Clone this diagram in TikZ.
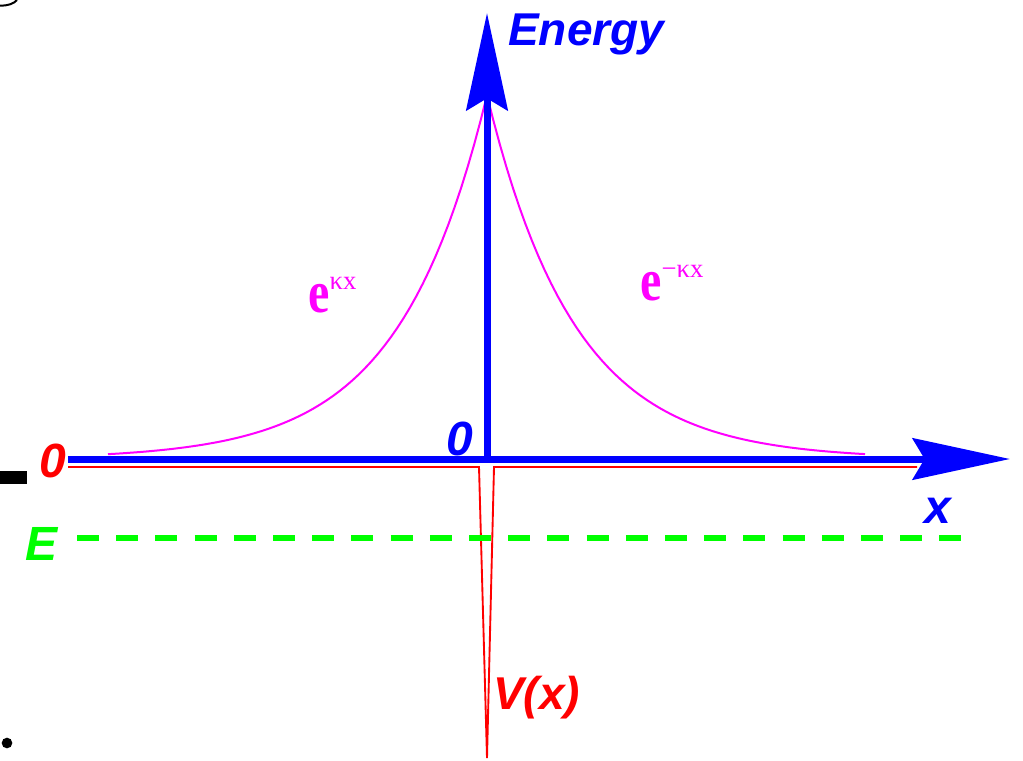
\documentclass[tikz,border=0pt]{standalone}
\usepackage{fontspec}
\setmainfont{Liberation Serif}
\setsansfont{Liberation Sans}
\usetikzlibrary{arrows.meta}
\definecolor{wavepink}{RGB}{255,0,255}
\definecolor{levelgreen}{RGB}{0,255,0}
\tikzset{
  axis/.style={draw=blue, line width=5.25pt, -{Stealth[length=73pt, width=31pt, inset=9pt]}},
  potential/.style={draw=red, line width=1.4pt, line join=miter},
  wave/.style={draw=wavepink, line width=1.5pt},
  level/.style={draw=levelgreen, line width=4.5pt, dash pattern=on 16.5pt off 12.9pt},
  lbl/.style={inner sep=0pt, anchor=base west, font=\sffamily\bfseries\itshape\fontsize{34.5}{40}\selectfont},
  biglbl/.style={lbl, font=\sffamily\bfseries\itshape\fontsize{36}{40}\selectfont},
  explbl/.style={inner sep=0pt, text=wavepink, anchor=base west}
}
\newcommand{\expbase}{{\fontsize{36}{40}\selectfont\bfseries\scalebox{1}[1.25]{e}}}
\newcommand{\expsup}[1]{\raisebox{17pt}{\fontsize{20}{24}\selectfont #1}}

\begin{document}
\begin{tikzpicture}[x=0.75pt, y=-0.75pt]
  \useasboundingbox (0,0) rectangle (1023,760);
  % stray marks at the border
  \fill[black] (0,471) rectangle (27,484);
  \fill[black] (7,743) circle (4pt);
  \draw[black, line width=1.5pt] (0,5.5) .. controls (8,6) and (14,3.5) .. (17,0);
  % coordinates of the axes
  \coordinate (xstart) at (68,459);
  \coordinate (xend) at (1010,459);
  \coordinate (ystart) at (487,462);
  \coordinate (yend) at (487,13);
  % delta well
  \coordinate (wl) at (479,467);
  \coordinate (wb) at (487,758);
  \coordinate (wr) at (494,467);
  \draw[potential] (68,467) -- (wl) -- (wb) -- (wr) -- (917,467);
  % bound state level
  \coordinate (estart) at (77,538);
  \coordinate (eend) at (962,538);
  \draw[level] (estart) -- (eend);
  % wave function
  \draw[wave] plot[domain=108:487, samples=60] (\x,{459-364*exp(-0.01138*(487-\x))});
  \draw[wave] plot[domain=487:865, samples=60] (\x,{459-364*exp(-0.01138*(\x-487))});
  % axes
  \draw[axis] (xstart) -- (xend);
  \draw[axis] (ystart) -- (yend);
  % labels
  \node[lbl, text=blue] (energy) at (508,45) {Energy};
  \node[biglbl, text=blue] (xlbl) at (924,523) {x};
  \node[biglbl, text=blue] (zero) at (446,455) {0};
  \node[biglbl, text=red] (vzero) at (39,477) {0};
  \node[biglbl, text=levelgreen] (elbl) at (25,560) {E};
  \node[lbl, text=red] (vlbl) at (493,709) {V(x)};
  \node[explbl] (growing) at (308,312) {\expbase\expsup{κx}};
  \node[explbl] (decaying) at (640,300) {\expbase\expsup{−κx}};
\end{tikzpicture}
\end{document}
